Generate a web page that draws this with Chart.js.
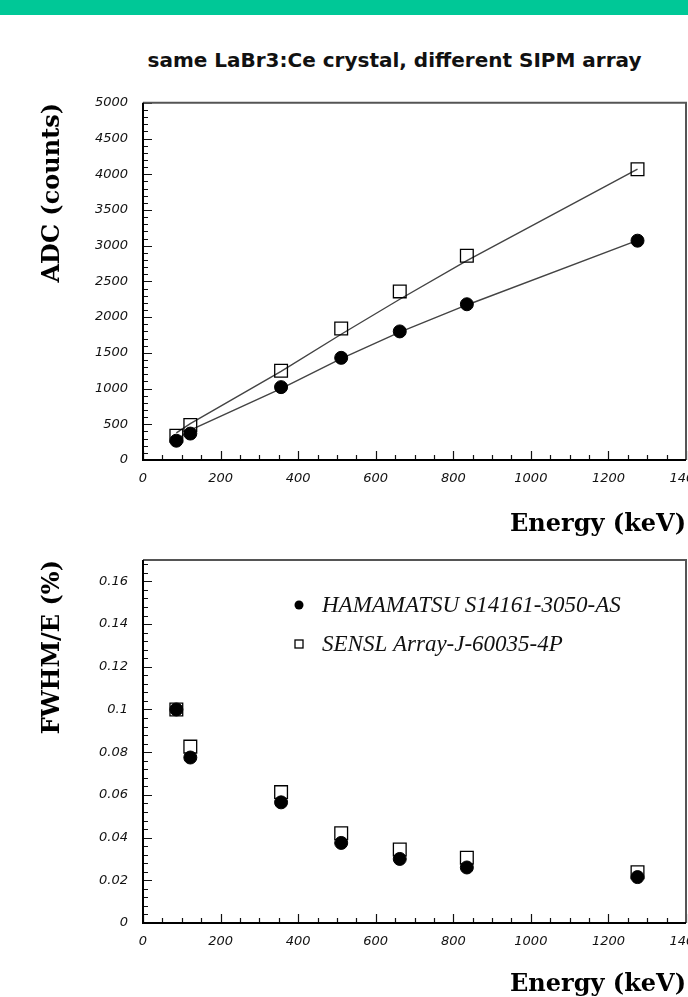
<!DOCTYPE html>
<html lang="en">
<head>
  <meta charset="UTF-8" />
  <title>LaBr3:Ce crystal with two SiPM arrays</title>
  <script src="https://cdn.jsdelivr.net/npm/chart.js"></script>
  <style>
    html, body { margin: 0; padding: 0; }
    body {
      width: 688px;
      height: 997px;
      overflow: hidden;
      position: relative;
      background: #fff;
    }
    #bar {
      position: absolute;
      left: 0; top: 0;
      width: 688px; height: 15px;
      background: #00c897;
    }
    #title {
      position: absolute;
      top: 47px; left: 0;
      width: 789px;
      text-align: center;
      font: bold 20px "DejaVu Sans", sans-serif;
      line-height: 26px;
      color: #111;
      white-space: nowrap;
    }
    .panel { position: absolute; left: 0; }
    .panel canvas { display: block; }
    #top { top: 80px; }
    #bottom { top: 535px; }
  </style>
</head>
<body>
  <div id="bar"></div>
  <div id="title">same LaBr3:Ce crystal, different SIPM array</div>
  <div class="panel" id="top"><canvas id="adcChart" width="720" height="470"></canvas></div>
  <div class="panel" id="bottom"><canvas id="resChart" width="720" height="478"></canvas></div>

  <script>
    // gamma lines used for the calibration (keV)
    const energy = [86, 122, 356, 511, 662, 835, 1275];

    // peak position in ADC counts
    const adcHamamatsu = [270, 370, 1020, 1430, 1800, 2180, 3070];
    const adcSensl     = [340, 490, 1250, 1840, 2360, 2860, 4070];

    // fit curves as they are drawn through the points
    const fitHamamatsu = [280, 420, 1000, 1420, 1790, 2170, 3075];
    const fitSensl     = [380, 510, 1240, 1760, 2250, 2790, 4070];

    // energy resolution FWHM/E
    const resHamamatsu = [0.100, 0.0775, 0.0565, 0.0375, 0.0300, 0.0260, 0.0215];
    const resSensl     = [0.100, 0.0826, 0.0613, 0.0420, 0.0344, 0.0306, 0.0238];

    const seriesNames = ['HAMAMATSU S14161-3050-AS', 'SENSL Array-J-60035-4P'];

    const energyTicks = [0, 200, 400, 600, 800, 1000, 1200, 1400];
    const adcTicks = [0, 500, 1000, 1500, 2000, 2500, 3000, 3500, 4000, 4500, 5000];
    const resTicks = [0, 0.02, 0.04, 0.06, 0.08, 0.1, 0.12, 0.14, 0.16];

    const pts = ys => energy.map((e, i) => ({ x: e, y: ys[i] }));

    const tickFont = { family: 'DejaVu Sans', size: 13, style: 'italic' };
    const axisFont = { family: 'DejaVu Serif', size: 24, weight: 'bold' };

    // plot box + inward major/minor tick marks (PAW style)
    const frame = {
      id: 'frame',
      afterDraw(chart, args, o) {
        const { ctx, chartArea: a, scales: { x, y } } = chart;
        ctx.save();
        ctx.strokeStyle = '#111';
        ctx.lineWidth = 1.2;
        ctx.beginPath();
        for (let i = 0; x.min + i * o.xMinor <= x.max + 1e-9; i++) {
          const px = Math.round(x.getPixelForValue(x.min + i * o.xMinor)) + 0.5;
          const len = i % o.xEvery === 0 ? 9 : 5;
          ctx.moveTo(px, a.bottom);
          ctx.lineTo(px, a.bottom - len);
        }
        for (let i = 0; y.min + i * o.yMinor <= y.max + 1e-9; i++) {
          const py = Math.round(y.getPixelForValue(y.min + i * o.yMinor)) + 0.5;
          const len = i % o.yEvery === 0 ? 9 : 5;
          ctx.moveTo(a.left, py);
          ctx.lineTo(a.left + len, py);
        }
        ctx.stroke();

        ctx.lineWidth = 2;
        ctx.strokeStyle = '#555';
        ctx.beginPath();
        ctx.moveTo(a.left, a.top);
        ctx.lineTo(a.right, a.top);
        ctx.lineTo(a.right, a.bottom);
        ctx.stroke();
        ctx.strokeStyle = '#000';
        ctx.beginPath();
        ctx.moveTo(a.left, a.top);
        ctx.lineTo(a.left, a.bottom);
        ctx.lineTo(a.right, a.bottom);
        ctx.stroke();
        ctx.restore();
      }
    };

    // legend drawn inside the plot area, one series per row
    const boxLegend = {
      id: 'boxLegend',
      afterDraw(chart) {
        const { ctx, chartArea: a } = chart;
        ctx.save();
        ctx.font = 'italic 23px "Liberation Serif", serif';
        ctx.textBaseline = 'middle';
        chart.data.datasets.forEach((ds, i) => {
          const cx = a.left + 156, cy = a.top + 45 + i * 39;
          ctx.fillStyle = '#000';
          ctx.strokeStyle = '#000';
          ctx.lineWidth = 1.3;
          if (ds.pointStyle === 'rect') {
            ctx.strokeRect(cx - 4, cy - 4, 8, 8);
          } else {
            ctx.beginPath();
            ctx.arc(cx, cy, 4.5, 0, Math.PI * 2);
            ctx.fill();
          }
          ctx.fillStyle = '#111';
          ctx.fillText(ds.label, a.left + 179, cy + 1);
        });
        ctx.restore();
      }
    };

    function energyAxis(titlePad) {
      return {
        type: 'linear',
        min: 0,
        max: 1400,
        afterBuildTicks: s => { s.ticks = energyTicks.map(v => ({ value: v })); },
        afterFit: s => { s.height = 90; },
        grid: { display: false, drawTicks: false },
        border: { display: false },
        ticks: { padding: 11, maxRotation: 0, autoSkip: false, color: '#111', font: tickFont,
                 callback: v => String(v) },
        title: { display: true, text: 'Energy (keV)', align: 'end', color: '#000', font: axisFont,
                 padding: { top: 0, bottom: titlePad } }
      };
    }

    function valueAxis(max, ticks, title, fmt) {
      return {
        type: 'linear',
        min: 0,
        max: max,
        afterBuildTicks: s => { s.ticks = ticks.map(v => ({ value: v })); },
        afterFit: s => { s.width = 143; },
        grid: { display: false, drawTicks: false },
        border: { display: false },
        ticks: { padding: 15, autoSkip: false, color: '#111', font: tickFont, callback: fmt },
        title: { display: true, text: title, align: 'end', color: '#000', font: axisFont,
                 padding: { top: 38, bottom: 0 } }
      };
    }

    const common = {
      responsive: false,
      animation: false,
      events: [],
      plugins: { legend: { display: false }, tooltip: { enabled: false } }
    };

    // ------------------ ADC vs energy ------------------
    new Chart(document.getElementById('adcChart'), {
      type: 'scatter',
      data: {
        datasets: [
          { label: seriesNames[0], data: pts(adcHamamatsu), pointStyle: 'circle', pointRadius: 6.5,
            backgroundColor: '#000', borderColor: '#000', borderWidth: 1 },
          { label: seriesNames[1], data: pts(adcSensl), pointStyle: 'rect', pointRadius: 9,
            backgroundColor: 'rgba(0,0,0,0)', borderColor: '#000', borderWidth: 1.3 },
          { label: 'fit1', data: pts(fitHamamatsu), showLine: true, pointRadius: 0,
            borderColor: '#444', borderWidth: 1.4, tension: 0 },
          { label: 'fit2', data: pts(fitSensl), showLine: true, pointRadius: 0,
            borderColor: '#444', borderWidth: 1.4, tension: 0 }
        ]
      },
      options: {
        ...common,
        layout: { padding: { top: 18, right: 34, bottom: 0, left: 0 } },
        scales: {
          x: energyAxis(11),
          y: valueAxis(5000, adcTicks, 'ADC (counts)', v => String(v))
        },
        plugins: { ...common.plugins, frame: { xMinor: 50, xEvery: 4, yMinor: 100, yEvery: 5 } }
      },
      plugins: [frame]
    });

    // ------------------ FWHM/E vs energy ------------------
    new Chart(document.getElementById('resChart'), {
      type: 'scatter',
      data: {
        datasets: [
          { label: seriesNames[0], data: pts(resHamamatsu), pointStyle: 'circle', pointRadius: 6.5,
            backgroundColor: '#000', borderColor: '#000', borderWidth: 1 },
          { label: seriesNames[1], data: pts(resSensl), pointStyle: 'rect', pointRadius: 9,
            backgroundColor: 'rgba(0,0,0,0)', borderColor: '#000', borderWidth: 1.3 }
        ]
      },
      options: {
        ...common,
        layout: { padding: { top: 25, right: 34, bottom: 0, left: 0 } },
        scales: {
          x: energyAxis(14),
          y: valueAxis(0.17, resTicks, 'FWHM/E (%)', v => String(+v.toFixed(3)))
        },
        plugins: { ...common.plugins, frame: { xMinor: 50, xEvery: 4, yMinor: 0.004, yEvery: 5 } }
      },
      plugins: [frame, boxLegend]
    });
  </script>
</body>
</html>
